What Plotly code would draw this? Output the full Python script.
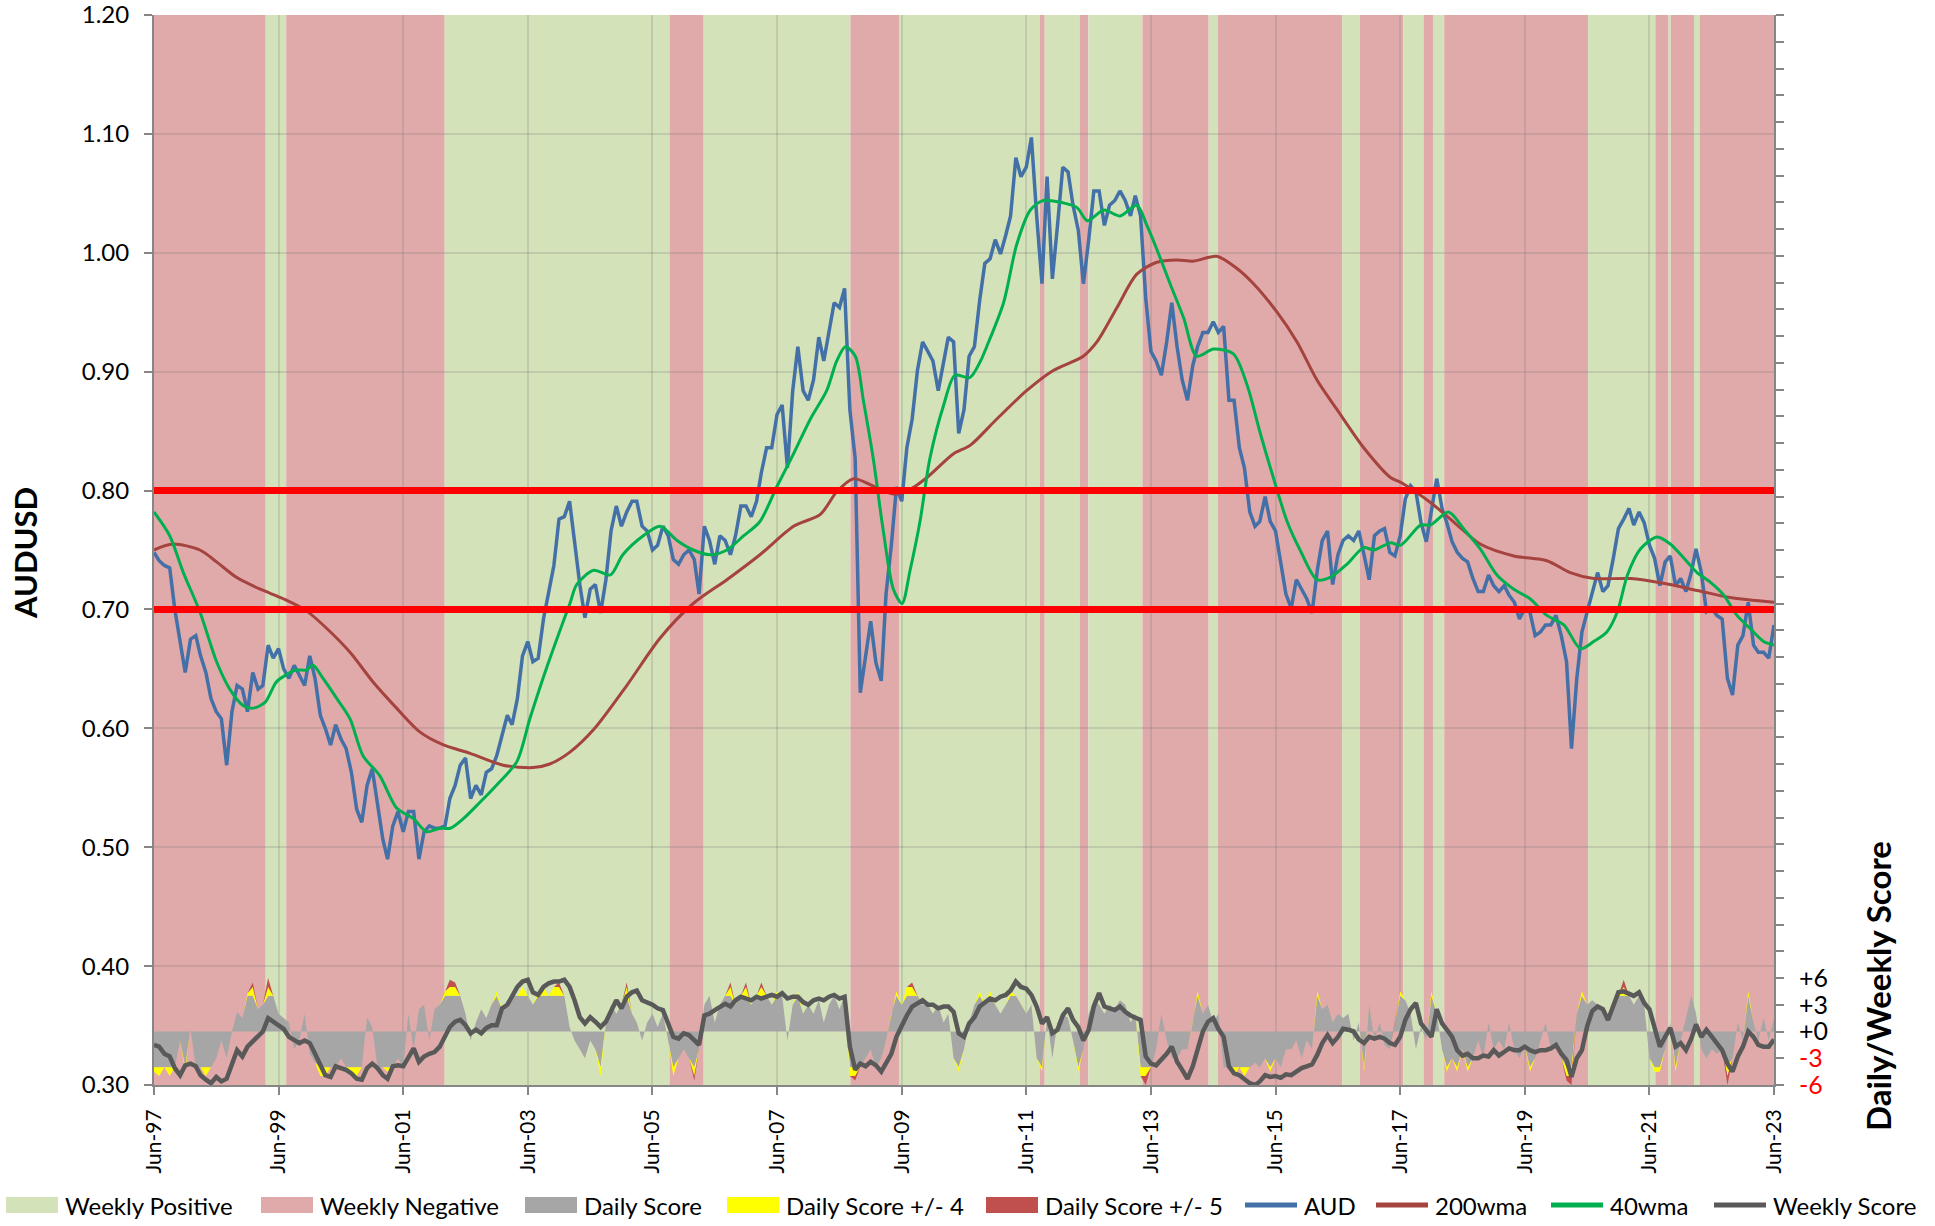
import pandas as pd
import plotly.graph_objects as go

# ---------------- data ----------------
months = pd.date_range("1997-06-01", "2023-06-01", freq="MS")

aud = [
    0.748, 0.741, 0.737, 0.735, 0.700, 0.672, 0.647,                               # 1997 Jun-Dec
    0.675, 0.678, 0.661, 0.647, 0.625, 0.614, 0.608, 0.569, 0.614, 0.636, 0.633, 0.614,  # 1998
    0.647, 0.633, 0.636, 0.670, 0.659, 0.667, 0.650, 0.642, 0.653, 0.645, 0.636, 0.661,  # 1999
    0.642, 0.611, 0.600, 0.586, 0.603, 0.591, 0.583, 0.563, 0.532, 0.521, 0.552, 0.566,  # 2000
    0.538, 0.507, 0.490, 0.518, 0.530, 0.513, 0.530, 0.530, 0.490, 0.513, 0.518, 0.516,  # 2001
    0.516, 0.518, 0.541, 0.552, 0.569, 0.575, 0.541, 0.552, 0.544, 0.563, 0.566, 0.577,  # 2002
    0.594, 0.611, 0.603, 0.625, 0.661, 0.673, 0.656, 0.659, 0.692, 0.715, 0.737, 0.776,  # 2003
    0.778, 0.791, 0.758, 0.721, 0.693, 0.717, 0.721, 0.697, 0.725, 0.766, 0.787, 0.770,  # 2004
    0.782, 0.791, 0.791, 0.770, 0.766, 0.750, 0.754, 0.770, 0.762, 0.742, 0.738, 0.746,  # 2005
    0.750, 0.742, 0.713, 0.770, 0.758, 0.738, 0.762, 0.758, 0.746, 0.762, 0.787, 0.787,  # 2006
    0.778, 0.791, 0.815, 0.836, 0.836, 0.864, 0.872, 0.819, 0.884, 0.921, 0.884, 0.876,  # 2007
    0.893, 0.929, 0.909, 0.933, 0.958, 0.954, 0.970, 0.868, 0.827, 0.630, 0.660, 0.690,  # 2008
    0.655, 0.640, 0.713, 0.754, 0.803, 0.791, 0.836, 0.860, 0.901, 0.925, 0.917, 0.909,  # 2009
    0.884, 0.909, 0.929, 0.925, 0.848, 0.868, 0.913, 0.921, 0.960, 0.991, 0.995, 1.011,  # 2010
    0.999, 1.015, 1.031, 1.080, 1.064, 1.072, 1.097, 1.031, 0.974, 1.064, 0.978, 1.023,  # 2011
    1.072, 1.068, 1.040, 1.019, 0.974, 1.011, 1.052, 1.052, 1.023, 1.040, 1.044, 1.052,  # 2012
    1.044, 1.031, 1.048, 1.031, 0.962, 0.917, 0.909, 0.897, 0.925, 0.958, 0.921, 0.893,  # 2013
    0.876, 0.905, 0.921, 0.933, 0.933, 0.942, 0.933, 0.938, 0.876, 0.876, 0.836, 0.819,  # 2014
    0.782, 0.770, 0.774, 0.795, 0.774, 0.766, 0.738, 0.713, 0.701, 0.725, 0.717, 0.709,  # 2015
    0.697, 0.733, 0.758, 0.766, 0.721, 0.746, 0.758, 0.762, 0.758, 0.766, 0.746, 0.725,  # 2016
    0.762, 0.766, 0.768, 0.748, 0.745, 0.762, 0.793, 0.804, 0.799, 0.773, 0.757, 0.782,  # 2017
    0.810, 0.785, 0.773, 0.757, 0.748, 0.743, 0.740, 0.726, 0.715, 0.715, 0.729, 0.720,  # 2018
    0.715, 0.720, 0.712, 0.706, 0.692, 0.701, 0.698, 0.678, 0.681, 0.687, 0.687, 0.695,  # 2019
    0.678, 0.656, 0.583, 0.642, 0.681, 0.698, 0.715, 0.731, 0.715, 0.720, 0.743, 0.768,  # 2020
    0.776, 0.785, 0.771, 0.782, 0.773, 0.754, 0.743, 0.720, 0.740, 0.745, 0.720, 0.726,  # 2021
    0.715, 0.731, 0.751, 0.731, 0.698, 0.701, 0.695, 0.692, 0.642, 0.628, 0.670, 0.678,  # 2022
    0.706, 0.670, 0.664, 0.664, 0.659, 0.687,                                       # 2023 Jan-Jun
]

weekly_score = [
    -1.5, -1.7, -2.5, -2.8, -4.1, -4.9, -3.8,
    -3.6, -3.9, -4.9, -5.4, -5.8, -5.1, -5.6, -5.3, -3.6, -2.1, -2.8, -1.7,
    -1.1, -0.6, 0.0, 1.5, 1.1, 0.7, 0.3, -0.6, -1.0, -1.3, -1.0, -1.3,
    -2.5, -3.8, -4.9, -5.1, -3.9, -4.1, -4.3, -4.7, -5.3, -5.4, -4.1, -3.6,
    -4.1, -4.9, -5.3, -3.9, -3.8, -3.9, -2.8, -1.9, -3.4, -2.8, -2.5, -2.3,
    -1.7, -0.4, 0.5, 1.1, 1.3, 0.7, -0.2, 0.2, -0.2, 0.4, 0.7, 0.7,
    2.6, 3.0, 3.9, 5.0, 5.6, 5.8, 4.4, 4.1, 5.0, 5.4, 5.6, 5.6,
    5.8, 5.0, 3.5, 1.6, 0.9, 1.6, 1.1, 0.5, 1.1, 2.2, 3.5, 2.6,
    3.9, 4.4, 4.6, 3.5, 3.3, 3.0, 2.6, 2.4, 0.9, -0.6, -0.8, -0.2,
    -0.4, -1.0, -1.5, 1.8, 2.0, 2.4, 2.8, 3.1, 2.8, 3.5, 3.9, 3.7,
    3.5, 3.9, 3.7, 3.9, 4.1, 3.9, 4.3, 3.7, 3.9, 3.9, 3.3, 3.0,
    3.5, 3.7, 3.5, 3.9, 4.1, 3.7, 3.9, -1.7, -4.3, -3.6, -3.9, -3.4,
    -3.8, -4.5, -3.6, -2.5, -0.6, 0.7, 1.8, 2.8, 3.1, 3.5, 3.0, 3.0,
    2.6, 2.8, 2.8, 2.2, -0.2, -0.6, 0.9, 1.6, 2.8, 3.3, 3.7, 3.5,
    3.9, 4.1, 4.6, 5.6, 5.0, 4.8, 4.1, 2.8, 0.9, 1.6, -0.2, 0.2,
    1.8, 2.6, 1.3, 0.5, -1.0, 0.2, 2.8, 4.3, 2.8, 2.6, 2.4, 2.8,
    2.2, 1.8, 1.6, 1.3, -2.8, -3.6, -3.8, -3.2, -2.5, -1.7, -3.4, -4.3,
    -5.3, -3.9, -1.9, 0.0, 1.1, 1.5, 0.3, -0.6, -3.9, -4.7, -4.9, -5.4,
    -5.8, -6.0, -5.6, -4.9, -5.1, -5.0, -5.2, -4.8, -4.9, -4.5, -4.1, -3.9,
    -3.7, -2.6, -1.3, -0.4, -1.3, -0.6, 0.3, 0.2, 0.0, -0.9, -1.3, -0.6,
    -0.8, -0.6, -0.8, -1.3, -1.5, -0.6, 1.3, 2.5, 3.2, 0.9, 0.2, -0.6,
    2.5, 0.9, 0.2, -0.6, -2.1, -2.7, -2.5, -3.0, -3.0, -2.7, -2.8, -2.1,
    -2.7, -2.3, -1.9, -2.1, -2.1, -1.7, -2.1, -2.3, -2.1, -2.1, -1.9, -1.5,
    -2.5, -3.2, -5.1, -3.0, -2.1, 0.6, 2.3, 2.8, 2.5, 1.3, 2.8, 4.4,
    4.5, 4.2, 4.0, 4.4, 3.2, 2.5, 0.4, -1.7, -0.6, 0.4, -1.7, -1.3,
    -2.1, -0.8, 0.8, -0.6, 0.2, -0.6, -1.3, -2.1, -3.6, -4.5, -2.8, -1.7,
    0.0, -0.6, -1.5, -1.7, -1.7, -0.9,
]

daily_score = [
    -4.5, -5.0, -4.0, -5.0, -4.0, -1.0, -4.5,
    0.3, -4.0, -4.0, -5.0, -4.0, -3.0, -1.0, -3.0, 0.0, 2.2, 1.5, 4.3,
    5.5, 2.5, 3.0, 6.0, 4.0, 2.0, 1.5, 1.0, -2.0, -1.0, 2.0, -2.5,
    -3.5, -5.0, -5.0, -4.0, -4.0, -3.0, -4.0, -5.0, -5.0, -4.0, 1.6, 0.5,
    -4.0, -4.0, -4.5, -4.0, -3.0, -4.0, 2.0, -2.0, 2.5, 3.0, -1.0, 2.5,
    3.0, 4.5, 5.8, 5.5, 4.0, 2.0, -1.0, 1.0, 2.5, 1.5, 3.0, 4.5,
    2.5, 3.5, 4.0, 4.0, 5.0, 4.0, 3.0, 4.5, 5.0, 4.0, 5.0, 5.5,
    4.0, 0.5, -1.0, -2.0, -3.0, -1.0, -2.0, -5.0, 1.0, 3.0, 2.0, 3.0,
    5.5, 2.0, 1.0, -1.0, 1.0, 2.0, 0.5, 2.0, -1.0, -5.0, -3.0, -2.0,
    -3.0, -5.5, -2.0, 3.0, 4.0, 1.0, 3.0, 4.0, 5.5, 3.0, 4.0, 5.5,
    3.0, 4.0, 5.5, 4.0, 3.0, 4.5, 4.0, -1.0, 3.0, 4.5, 2.0, 3.0,
    2.0, 3.5, 1.0, 3.0, 4.0, 2.5, 4.0, -5.0, -5.5, -4.0, -3.0, -2.0,
    -4.0, -3.0, -1.0, 2.0, 4.5, 3.0, 5.0, 5.5, 4.0, 3.0, 3.0, 2.0,
    3.0, 1.0, 2.0, -3.0, -4.5, -2.0, 1.0, 3.0, 4.5, 3.0, 4.5, 3.0,
    2.0, 3.0, 4.5, 4.0, 3.0, 2.0, 3.0, -3.0, -4.5, 1.5, -3.0, 1.0,
    2.0, 1.5, -1.0, -4.5, -2.0, 2.0, 3.5, 3.0, 2.0, 3.0, 2.5, 3.5,
    3.0, 1.0, 2.0, -5.0, -6.0, -4.0, -2.0, 2.0, -1.0, -3.0, -3.0, -2.0,
    -2.0, 1.0, 4.5, 2.0, 3.0, 1.0, 2.0, -4.0, -4.0, -5.0, -4.0, -5.0,
    -4.0, -3.5, -4.0, -3.0, -4.5, -3.0, -4.0, -2.0, -2.0, -1.0, -3.0, -1.0,
    -2.0, 4.5, 2.5, 3.0, 1.0, 2.0, 1.5, 2.0, -1.0, 1.0, -4.5, 3.0,
    -1.0, 1.0, -1.5, -2.0, 1.0, 4.5, 3.5, 2.0, -2.0, 0.5, -1.0, 4.5,
    2.0, -2.0, -4.5, -3.0, -4.5, -2.0, -4.5, -3.0, -1.0, -3.0, 1.0, -2.0,
    -1.0, -2.0, 1.0, -2.0, -3.0, -1.5, -4.5, -3.0, -1.0, 1.0, -2.0, -1.5,
    -3.0, -5.5, -6.0, 2.0, 4.5, 3.0, 3.5, 3.0, 2.0, 1.5, 3.0, 4.0,
    5.8, 4.0, 3.0, 4.0, 3.0, -3.0, -4.5, -4.5, -2.0, 1.0, -4.5, -1.0,
    1.5, 4.0, 2.0, -2.0, -3.0, -2.0, -2.5, -2.0, -6.0, -3.0, 1.0, -1.0,
    4.5, 1.0, -1.0, 1.5, -1.0, 1.5,
]

ma40_dates = [
    "1997-06-01", "1997-09-01", "1997-11-20", "1998-02-25", "1998-06-03", "1998-08-19",
    "1998-11-07", "1999-01-05", "1999-03-15", "1999-05-19", "1999-07-16", "1999-09-13",
    "1999-11-10", "1999-12-20", "2000-02-17", "2000-05-08", "2000-07-24", "2000-10-08",
    "2001-01-15", "2001-04-23", "2001-07-31", "2001-10-16", "2002-01-01", "2002-03-04",
    "2002-05-19", "2002-08-26", "2002-11-28", "2003-03-29", "2003-06-13", "2003-08-29",
    "2003-11-18", "2004-02-03", "2004-03-14", "2004-06-21", "2004-09-27", "2004-12-09",
    "2005-04-08", "2005-07-16", "2005-10-23", "2006-01-26", "2006-05-05", "2006-08-11",
    "2006-11-18", "2007-02-21", "2007-05-30", "2007-09-06", "2007-12-13", "2008-03-18",
    "2008-05-16", "2008-07-06", "2008-09-02", "2008-10-19", "2008-12-16", "2009-02-13",
    "2009-04-13", "2009-06-03", "2009-07-20", "2009-09-16", "2009-11-13", "2010-02-02",
    "2010-04-09", "2010-07-05", "2010-09-06", "2010-10-12", "2011-01-19", "2011-04-06",
    "2011-06-25", "2011-09-09", "2012-01-04", "2012-03-25", "2012-05-23", "2012-08-29",
    "2012-12-02", "2013-03-10", "2013-05-08", "2013-07-05", "2013-09-21", "2013-12-10",
    "2014-02-24", "2014-06-03", "2014-09-27", "2014-12-16", "2015-03-04", "2015-05-19",
    "2015-08-08", "2015-10-23", "2016-01-30", "2016-04-16", "2016-07-23", "2016-10-30",
    "2016-12-28", "2017-04-05", "2017-06-03", "2017-09-28", "2017-11-25", "2018-03-11",
    "2018-06-07", "2018-09-13", "2018-12-20", "2019-03-29", "2019-07-02", "2019-10-09",
    "2020-01-16", "2020-04-23", "2020-07-09", "2020-09-24", "2020-11-25", "2021-01-23",
    "2021-04-10", "2021-07-17", "2021-10-01", "2022-01-08", "2022-03-07", "2022-05-23",
    "2022-08-11", "2022-10-27", "2023-01-12", "2023-04-01", "2023-06-01",
]
ma40 = [
    0.782, 0.762, 0.731, 0.698, 0.656, 0.633,
    0.619, 0.617, 0.622, 0.639, 0.645, 0.649,
    0.649, 0.653, 0.642, 0.625, 0.608, 0.577,
    0.560, 0.533, 0.524, 0.513, 0.516, 0.516,
    0.524, 0.538, 0.552, 0.572, 0.608, 0.642,
    0.675, 0.705, 0.721, 0.733, 0.729, 0.746,
    0.762, 0.770, 0.758, 0.750, 0.746, 0.750,
    0.762, 0.774, 0.803, 0.831, 0.860, 0.884,
    0.909, 0.921, 0.913, 0.876, 0.827, 0.766,
    0.717, 0.705, 0.733, 0.774, 0.827, 0.872,
    0.897, 0.895, 0.909, 0.921, 0.958, 1.007,
    1.036, 1.044, 1.042, 1.038, 1.027, 1.036,
    1.031, 1.040, 1.023, 1.003, 0.974, 0.945,
    0.913, 0.919, 0.915, 0.889, 0.848, 0.811,
    0.774, 0.750, 0.725, 0.727, 0.738, 0.752,
    0.750, 0.756, 0.754, 0.771, 0.771, 0.782,
    0.768, 0.751, 0.729, 0.717, 0.709, 0.695,
    0.687, 0.667, 0.673, 0.681, 0.698, 0.729,
    0.751, 0.761, 0.755, 0.740, 0.731, 0.723,
    0.712, 0.695, 0.684, 0.673, 0.670,
]

ma200_dates = [
    "1997-06-01", "1997-09-20", "1998-02-25", "1998-06-03", "1998-09-27", "1999-02-14",
    "1999-06-28", "1999-11-10", "2000-03-10", "2000-07-24", "2000-12-06", "2001-04-23",
    "2001-09-06", "2002-01-23", "2002-06-28", "2003-01-08", "2003-07-02", "2003-10-08",
    "2004-02-03", "2004-06-21", "2005-01-01", "2005-07-16", "2006-01-26", "2006-08-11",
    "2007-02-21", "2007-09-06", "2008-02-10", "2008-05-16", "2008-08-22", "2008-11-28",
    "2009-04-13", "2009-07-20", "2009-10-27", "2010-04-01", "2010-07-07", "2010-12-09",
    "2011-06-03", "2011-11-06", "2012-04-30", "2012-07-19", "2012-11-14", "2013-03-10",
    "2013-07-05", "2013-10-30", "2014-02-06", "2014-06-21", "2014-10-16", "2015-01-23",
    "2015-06-10", "2015-10-05", "2016-01-30", "2016-05-27", "2016-10-30", "2017-04-05",
    "2017-06-03", "2017-11-25", "2018-05-01", "2018-09-13", "2019-03-29", "2019-10-09",
    "2020-02-23", "2020-07-09", "2021-02-10", "2021-08-22", "2022-03-07", "2022-09-17",
    "2023-06-01",
]
ma200 = [
    0.750, 0.755, 0.750, 0.740, 0.727, 0.717,
    0.709, 0.699, 0.684, 0.664, 0.639, 0.617,
    0.597, 0.586, 0.579, 0.569, 0.567, 0.570,
    0.580, 0.599, 0.636, 0.676, 0.705, 0.725,
    0.746, 0.770, 0.780, 0.799, 0.810, 0.805,
    0.797, 0.801, 0.811, 0.831, 0.838, 0.860,
    0.884, 0.901, 0.913, 0.925, 0.954, 0.982,
    0.992, 0.994, 0.993, 0.997, 0.987, 0.974,
    0.950, 0.925, 0.893, 0.868, 0.836, 0.811,
    0.807, 0.790, 0.771, 0.755, 0.745, 0.741,
    0.731, 0.726, 0.726, 0.722, 0.716, 0.710,
    0.706,
]

# weekly regime bands: edges and sign of each band (1 = positive, -1 = negative)
band_edges = [
    "1997-06-01", "1999-03-18", "1999-07-16", "2002-01-30", "2005-09-09", "2006-03-28",
    "2008-08-04", "2009-05-16", "2011-08-19", "2011-09-17", "2012-04-09", "2012-05-30",
    "2013-04-12", "2014-05-05", "2014-06-29", "2016-06-25", "2016-10-08", "2017-06-18",
    "2017-10-16", "2017-12-10", "2018-02-14", "2020-06-06", "2021-07-06", "2021-09-21",
    "2021-10-05", "2022-02-17", "2022-03-22", "2023-06-01",
]
band_sign = [-1, 1, -1, 1, -1, 1, -1, 1, -1, 1, -1, 1, -1, 1, -1, 1, -1, 1, -1, 1, -1, 1, -1, 1, -1, 1, -1]

threshold_levels = [0.70, 0.80]

x_tick_years = list(range(1997, 2024, 2))
y_tick_vals = [0.30, 0.40, 0.50, 0.60, 0.70, 0.80, 0.90, 1.00, 1.10, 1.20]
score_tick_labels = {-6: "-6", -3: "-3", 0: "+0", 3: "+3", 6: "+6"}

legend_labels = ["Weekly Positive", "Weekly Negative", "Daily Score", "Daily Score +/- 4",
                 "Daily Score +/- 5", "AUD", "200wma", "40wma", "Weekly Score"]

# ---------------- styling ----------------
POS = "#D4E2BA"
NEG = "#E0AAAA"
GREY = "#A6A6A6"
YEL = "#FFFF00"
RED5 = "#C0504D"
C_AUD = "#4470A8"
C_200 = "#A5433E"
C_40 = "#00B050"
C_WS = "#595959"
FONT = "Lato, 'Open Sans', sans-serif"
AXIS_COL = "#868686"
GRID_COL = "rgba(110,110,110,0.20)"

legend_style = [("rect", POS), ("rect", NEG), ("rect", GREY), ("rect", YEL), ("rect", RED5),
                ("line", C_AUD), ("line", C_200), ("line", C_40), ("line", C_WS)]
legend_px = [6, 261, 525, 727, 986, 1245, 1376, 1551, 1714]   # swatch left edge (px)

# plot-area geometry in pixels (for paper-coordinate conversion of the legend)
W, H = 1935, 1226
ML, MR, MT, MB = 154, 161, 15, 141
PW, PH = W - ML - MR, H - MT - MB


def px_x(px):
    return (px - ML) / PW


def px_y(py):
    return (H - MB - py) / PH


fig = go.Figure()

# daily score areas (secondary axis): grey up to 4, yellow 4..5, red beyond 5
d3 = [max(-4.0, min(4.0, v)) for v in daily_score]
d4 = [max(-5.0, min(5.0, v)) for v in daily_score]
d5 = list(daily_score)
fig.add_trace(go.Scatter(x=months, y=d3, yaxis="y2", mode="lines", line=dict(width=0, color=GREY),
                         fill="tozeroy", fillcolor=GREY, name="Daily Score"))
fig.add_trace(go.Scatter(x=months, y=d4, yaxis="y2", mode="lines", line=dict(width=0, color=YEL),
                         fill="tonexty", fillcolor=YEL, name="Daily Score +/- 4"))
fig.add_trace(go.Scatter(x=months, y=d5, yaxis="y2", mode="lines", line=dict(width=0, color=RED5),
                         fill="tonexty", fillcolor=RED5, name="Daily Score +/- 5"))

# weekly score line
fig.add_trace(go.Scatter(x=months, y=weekly_score, yaxis="y2", mode="lines",
                         line=dict(color=C_WS, width=4.5), name="Weekly Score"))

# price and moving averages
fig.add_trace(go.Scatter(x=months, y=aud, mode="lines", line=dict(color=C_AUD, width=3.5),
                         name="AUD"))
fig.add_trace(go.Scatter(x=ma200_dates, y=ma200, mode="lines",
                         line=dict(color=C_200, width=3, shape="spline", smoothing=0.8),
                         name="200wma"))
fig.add_trace(go.Scatter(x=ma40_dates, y=ma40, mode="lines",
                         line=dict(color=C_40, width=3, shape="spline", smoothing=0.8),
                         name="40wma"))

# red threshold lines
for lvl in threshold_levels:
    fig.add_trace(go.Scatter(x=[months[0], months[-1]], y=[lvl, lvl], mode="lines",
                             line=dict(color="#FF0000", width=7), hoverinfo="skip"))

# background bands
shapes = []
for i, s in enumerate(band_sign):
    shapes.append(dict(type="rect", xref="x", yref="paper", x0=band_edges[i], x1=band_edges[i + 1],
                       y0=0, y1=1, fillcolor=POS if s > 0 else NEG, line=dict(width=0),
                       layer="below"))

# legend (drawn as swatches + text, Excel style)
annotations = []
LEG_Y = 1205
for (kind, col), lab, x0 in zip(legend_style, legend_labels, legend_px):
    if kind == "rect":
        shapes.append(dict(type="rect", xref="paper", yref="paper",
                           x0=px_x(x0), x1=px_x(x0 + 52), y0=px_y(LEG_Y + 8), y1=px_y(LEG_Y - 8),
                           fillcolor=col, line=dict(width=0), layer="above"))
    else:
        shapes.append(dict(type="line", xref="paper", yref="paper",
                           x0=px_x(x0), x1=px_x(x0 + 52), y0=px_y(LEG_Y), y1=px_y(LEG_Y),
                           line=dict(color=col, width=5), layer="above"))
    annotations.append(dict(text=lab, xref="paper", yref="paper", x=px_x(x0 + 57), y=px_y(LEG_Y),
                            xanchor="left", yanchor="middle", showarrow=False,
                            font=dict(size=24, family=FONT, color="#000000")))

annotations += [
    dict(text="<b>AUDUSD</b>", xref="paper", yref="paper", x=px_x(25), y=px_y(553),
         textangle=-90, showarrow=False, font=dict(size=31, family=FONT),
         xanchor="center", yanchor="middle"),
    dict(text="<b>Daily/Weekly Score</b>", xref="paper", yref="paper", x=px_x(1878), y=px_y(986),
         textangle=-90, showarrow=False, font=dict(size=33, family=FONT),
         xanchor="center", yanchor="middle"),
]

score_vals = list(range(-6, 115, 3))
score_text = []
for v in score_vals:
    if v in score_tick_labels:
        t = score_tick_labels[v]
        score_text.append(f"<span style='color:#FF0000'>{t}</span>" if v < 0 else t)
    else:
        score_text.append("")

fig.update_layout(
    width=W, height=H, autosize=False,
    margin=dict(l=ML, r=MR, t=MT, b=MB, autoexpand=False),
    paper_bgcolor="white", plot_bgcolor="white",
    font=dict(family=FONT, size=21, color="#000000"),
    shapes=shapes, annotations=annotations,
    showlegend=False,
    xaxis=dict(
        type="date", range=[months[0], months[-1]],
        tickvals=[f"{y}-06-01" for y in x_tick_years],
        ticktext=[f"Jun-{str(y)[2:]}" for y in x_tick_years],
        tickangle=-90, ticks="outside", ticklen=8, tickcolor=AXIS_COL, tickwidth=2,
        showline=True, linecolor=AXIS_COL, linewidth=2, automargin=False,
        showgrid=True, gridcolor=GRID_COL, gridwidth=2, zeroline=False,
        tickfont=dict(size=21), ticklabelstandoff=6, ticklabeloverflow="allow",
    ),
    yaxis=dict(
        range=[0.30, 1.2], tickmode="array", tickvals=y_tick_vals,
        ticktext=[f"{v:.2f}" for v in y_tick_vals],
        ticks="outside", ticklen=8, tickcolor=AXIS_COL, tickwidth=2,
        showline=True, linecolor=AXIS_COL, linewidth=2, automargin=False,
        showgrid=True, gridcolor=GRID_COL, gridwidth=2, zeroline=False,
        tickfont=dict(size=24), ticklabelstandoff=10, ticklabeloverflow="allow",
    ),
    yaxis2=dict(
        overlaying="y", side="right", range=[-6, 114],
        tickmode="array", tickvals=score_vals, ticktext=score_text,
        ticks="outside", ticklen=8, tickcolor=AXIS_COL, tickwidth=2,
        showline=True, linecolor=AXIS_COL, linewidth=2, automargin=False,
        showgrid=False, zeroline=False, tickfont=dict(size=25), ticklabelstandoff=10,
        ticklabeloverflow="allow",
    ),
)

fig.write_html("out.html", config={"displayModeBar": False},
               post_script="document.body.style.margin='0';document.body.style.overflow='hidden';")
